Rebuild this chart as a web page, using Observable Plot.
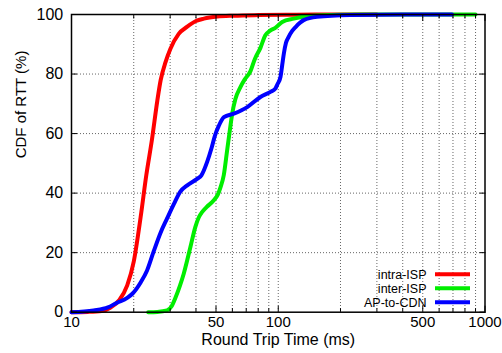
<!DOCTYPE html>
<html>
<head>
<meta charset="utf-8">
<script src="https://cdn.jsdelivr.net/npm/d3@7"></script>
<script src="https://cdn.jsdelivr.net/npm/@observablehq/plot@0.6"></script>
<style>
  html, body { margin: 0; padding: 0; background: white; }
  #chart { position: relative; width: 502px; height: 353px; }
</style>
</head>
<body>
<div id="chart"></div>
<script>
// ---- data ----
const seriesNames = ["intra-ISP", "inter-ISP", "AP-to-CDN"];
const seriesColors = ["#ff0000", "#00ee00", "#0000ff"];

const intraX = [10, 12, 14, 15.4, 17, 18.6, 20.0, 21.6, 23.0, 24.5, 26.0, 27.0, 28.5, 30.1, 33, 36.3, 40, 43.7, 50.7, 61, 80, 110, 150, 300];
const intraY = [0, 0.1, 0.4, 1.5, 4, 9, 17, 32, 46, 58, 71, 78, 84, 88.5, 93.5, 95.9, 97.8, 98.6, 99.3, 99.6, 99.8, 99.9, 100, 100];

const interX = [23.5, 26, 29.0, 30.5, 31.9, 33.5, 34.9, 36.3, 37.6, 39.7, 41.3, 42.8, 45, 48.8, 51, 52.6, 54.5, 56.6, 58.3, 59.9, 62, 65.7, 69, 73.4, 77, 82, 86.6, 91, 96.8, 104.5, 118.8, 138, 154, 250, 900];
const interY = [0, 0.1, 0.6, 2, 5, 9, 12.9, 17.5, 21.9, 28.6, 31.9, 33.6, 35.3, 37.6, 39.5, 42, 46, 54.4, 61, 66.7, 71.5, 75.7, 78.3, 81, 85, 88.8, 93, 94.5, 95.5, 97.5, 98.6, 99.4, 99.7, 100, 100];

const cdnX = [10, 12.8, 15, 16.6, 18.6, 19.7, 21.6, 23.2, 25, 27.0, 29, 31.3, 33.6, 36.3, 40.5, 42.5, 45.3, 47.5, 49.5, 51.5, 54.6, 61, 70.8, 82, 91.7, 96.8, 99, 102.5, 104.5, 106.5, 109, 112.3, 116.8, 121.3, 132.8, 154, 223, 400, 693];
const cdnY = [0, 0.6, 1.6, 3.2, 4.8, 6.2, 10, 14, 20.5, 26.8, 31.5, 36.4, 40.5, 42.6, 44.8, 46, 50.5, 55, 59.5, 62.5, 65.5, 66.7, 68.9, 72.3, 74, 75.1, 76.5, 79, 83, 87, 90.5, 92.5, 94.5, 95.8, 98.1, 99.2, 99.8, 100, 100];

const xTickLabels = [10, 50, 100, 500, 1000];
const xGridTicks = [20, 30, 40, 50, 60, 70, 80, 90, 100, 200, 300, 400, 500, 600, 700, 800, 900];
const xMinorTicks = [20, 30, 40, 60, 70, 80, 90, 200, 300, 400, 600, 700, 800, 900];
const yTicks = [0, 20, 40, 60, 80, 100];
const yGridTicks = [20, 40, 60, 80];

// ---- build table ----
const xs = [intraX, interX, cdnX];
const ys = [intraY, interY, cdnY];
const rows = [];
seriesNames.forEach((name, s) => {
  xs[s].forEach((x, i) => rows.push({series: name, x, y: ys[s][i]}));
});

const font = "'Liberation Sans', Arial, Helvetica, sans-serif";

const chart = Plot.plot({
  width: 502,
  height: 353,
  marginLeft: 71,
  marginRight: 17.5,
  marginTop: 14,
  marginBottom: 41.3,
  style: {fontFamily: font, fontSize: "16px", background: "white", color: "black", overflow: "visible"},
  x: {type: "log", domain: [10, 1000], axis: null},
  y: {domain: [0, 100], axis: null},
  color: {domain: seriesNames, range: seriesColors},
  marks: [
    Plot.gridX(xGridTicks, {stroke: "#555", strokeOpacity: 0.9, strokeWidth: 1, strokeDasharray: "1,2"}),
    Plot.gridY(yGridTicks, {stroke: "#555", strokeOpacity: 0.9, strokeWidth: 1, strokeDasharray: "1,2"}),
    Plot.line(rows, {x: "x", y: "y", z: "series", stroke: "series", strokeWidth: 4, curve: "monotone-x"}),
    Plot.frame({stroke: "black", strokeWidth: 1.5}),
    // inward tick marks (major and minor), mirrored
    Plot.axisX(xTickLabels, {anchor: "bottom", tickSize: -6, tickFormat: () => "", label: null, strokeWidth: 1}),
    Plot.axisX(xTickLabels, {anchor: "top", tickSize: -6, tickFormat: () => "", label: null, strokeWidth: 1}),
    Plot.axisX(xMinorTicks, {anchor: "bottom", tickSize: -3.5, tickFormat: () => "", label: null, strokeWidth: 1}),
    Plot.axisX(xMinorTicks, {anchor: "top", tickSize: -3.5, tickFormat: () => "", label: null, strokeWidth: 1}),
    Plot.axisY(yTicks, {anchor: "left", tickSize: -6, tickFormat: () => "", label: null, strokeWidth: 1}),
    Plot.axisY(yTicks, {anchor: "right", tickSize: -6, tickFormat: () => "", label: null, strokeWidth: 1}),
    // tick labels
    Plot.text(xTickLabels, {x: d => d, frameAnchor: "bottom", lineAnchor: "top", dy: 4, text: d => String(d), fontSize: 15}),
    Plot.text(yTicks, {y: d => d, frameAnchor: "left", textAnchor: "end", dx: -8.3, text: d => String(d), fontSize: 16}),
    // axis titles
    Plot.text(["Round Trip Time (ms)"], {frameAnchor: "bottom", dy: 32.5, fontSize: 16}),
    Plot.text(["CDF of RTT (%)"], {frameAnchor: "left", dx: -50.8, dy: -5, rotate: -90, fontSize: 15})
  ]
});

document.getElementById("chart").appendChild(chart);

// ---- legend (inside bottom-right of frame) ----
const svg = d3.select(chart);
const right = chart.scale("x").range[1];
const bottom = chart.scale("y").range[0];
const lg = svg.append("g").attr("font-family", font).attr("font-size", 12.5);
seriesNames.forEach((name, i) => {
  const yy = bottom - 37.4 + i * 14;
  lg.append("text").attr("x", right - 58).attr("y", yy).attr("dy", "0.35em")
    .attr("text-anchor", "end").attr("fill", "black").text(name);
  lg.append("line").attr("x1", right - 49.5).attr("x2", right - 14.5)
    .attr("y1", yy).attr("y2", yy).attr("stroke", seriesColors[i]).attr("stroke-width", 4);
});
</script>
</body>
</html>
